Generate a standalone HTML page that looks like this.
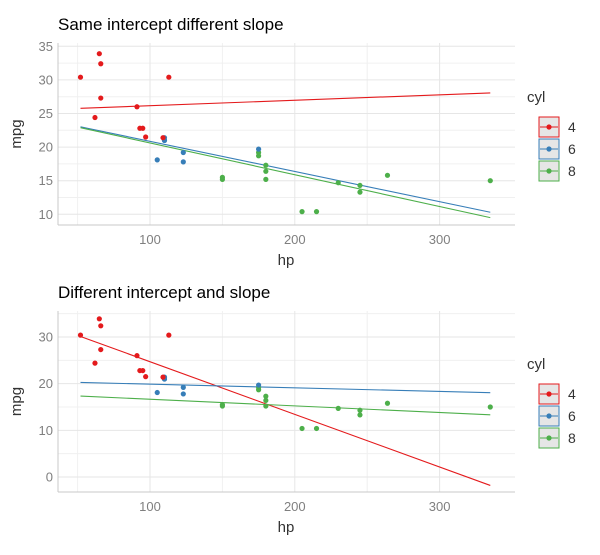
<!DOCTYPE html>
<html><head><meta charset="utf-8"><style>
body{margin:0;background:#fff}
svg text{font-family:"Liberation Sans",Arial,sans-serif}
</style></head><body>
<svg id="c" width="600" height="550" xmlns="http://www.w3.org/2000/svg"></svg>
<script>
const hp=[110,110,93,110,175,105,245,62,95,123,123,180,180,180,205,215,230,66,52,65,97,150,150,245,175,66,91,113,264,175,335,109];
const mpg=[21,21,22.8,21.4,18.7,18.1,14.3,24.4,22.8,19.2,17.8,16.4,17.3,15.2,10.4,10.4,14.7,32.4,30.4,33.9,21.5,15.5,15.2,13.3,19.2,27.3,26,30.4,15.8,19.7,15,21.4];
const cyl=[6,6,4,6,8,6,8,4,4,6,6,8,8,8,8,8,8,4,4,4,4,8,8,8,8,4,4,4,8,6,8,4];
const groups=[4,6,8];
const colors=['#e41a1c','#377eb8','#4daf4a'];
const topIntercepts=[25.35,25.35,25.35];
const topSlopes=[0.0081,-0.0449,-0.0473];
const botIntercepts=[35.98,20.67,18.08];
const botSlopes=[-0.1128,-0.0078,-0.0142];
const xTicks=[100,200,300];
const topYTicks=[10,15,20,25,30,35];
const botYTicks=[0,10,20,30];
const svg=document.getElementById('c');
const NS='http://www.w3.org/2000/svg';
function mk(t,a,p){const e=document.createElementNS(NS,t);for(const k in a)e.setAttribute(k,a[k]);(p||svg).appendChild(e);return e;}
const X=v=>150+(v-100)*1.448;
function panel(o){
  const g=mk('g',{});
  
  
  const Y=v=>o.y0+(v-o.v0)*o.k;
  for(const v of [50,150,250]) mk('line',{x1:X(v),x2:X(v),y1:o.top,y2:o.bot,stroke:'#f0f0f0','stroke-width':1},g);
  for(let i=0;i<o.yt.length-1;i++){const m=(o.yt[i]+o.yt[i+1])/2;mk('line',{x1:58,x2:515,y1:Y(m),y2:Y(m),stroke:'#f0f0f0'},g);}
  if(o.extraMinor!==undefined) mk('line',{x1:58,x2:515,y1:Y(o.extraMinor),y2:Y(o.extraMinor),stroke:'#f0f0f0'},g);
  for(const v of xTicks){mk('line',{x1:X(v),x2:X(v),y1:o.top,y2:o.bot,stroke:'#e6e6e6'},g);
    const t=mk('text',{x:X(v),y:o.bot+19,'text-anchor':'middle','font-size':13,fill:'#7f7f7f'},g);t.textContent=v;
    }
  for(const v of o.yt){mk('line',{x1:58,x2:515,y1:Y(v),y2:Y(v),stroke:'#e6e6e6'},g);
    const t=mk('text',{x:53,y:Y(v)+4.5,'text-anchor':'end','font-size':13,fill:'#7f7f7f'},g);t.textContent=v;
    }
  mk('line',{x1:58,x2:58,y1:o.top,y2:o.bot,stroke:'#c8c8c8'},g);
  mk('line',{x1:58,x2:515,y1:o.bot,y2:o.bot,stroke:'#c8c8c8'},g);
  for(let i=0;i<3;i++){
    const l=mk('line',{x1:X(52),x2:X(335),y1:Y(o.b[i]+o.m[i]*52),y2:Y(o.b[i]+o.m[i]*335),stroke:colors[i],'stroke-width':1.1},g);
    
  }
  for(let j=0;j<hp.length;j++){
    const c=mk('circle',{cx:X(hp[j]),cy:Y(mpg[j]),r:2.6,fill:colors[groups.indexOf(cyl[j])]},g);
    
  }
  let t=mk('text',{x:58,y:o.top-13,'font-size':17,fill:'#000'},g);t.textContent=o.title;
  
  t=mk('text',{x:286,y:o.bot+40,'text-anchor':'middle','font-size':15,fill:'#333'},g);t.textContent='hp';
  
  const my=(o.top+o.bot)/2;
  t=mk('text',{x:21,y:my,'text-anchor':'middle','font-size':15,fill:'#333',transform:`rotate(-90 21 ${my})`},g);t.textContent='mpg';
  
  t=mk('text',{x:527,y:o.ly,'font-size':15,fill:'#333'},g);t.textContent='cyl';
  
  for(let i=0;i<3;i++){
    const yy=o.ly+15+i*22;
    const e=mk('g',{},g);
    mk('rect',{x:539,y:yy,width:20,height:20,fill:'#e6e6e6',stroke:colors[i],'stroke-width':1},e);
    mk('line',{x1:540,x2:558,y1:yy+10,y2:yy+10,stroke:colors[i]},e);
    mk('circle',{cx:549,cy:yy+10,r:2.6,fill:colors[i]},e);
    const tt=mk('text',{x:568,y:yy+15,'font-size':14,fill:'#333'},e);tt.textContent=groups[i];
  }
}
panel({name:'top-panel',title:'Same intercept different slope',top:43,bot:225,y0:214.3,v0:10,k:-6.72,yt:topYTicks,b:topIntercepts,m:topSlopes,ly:102});
panel({name:'bottom-panel',title:'Different intercept and slope',top:311,bot:492,y0:477,v0:0,k:-4.667,yt:botYTicks,b:botIntercepts,m:botSlopes,ly:369,extraMinor:35});
</script>
</body></html>
